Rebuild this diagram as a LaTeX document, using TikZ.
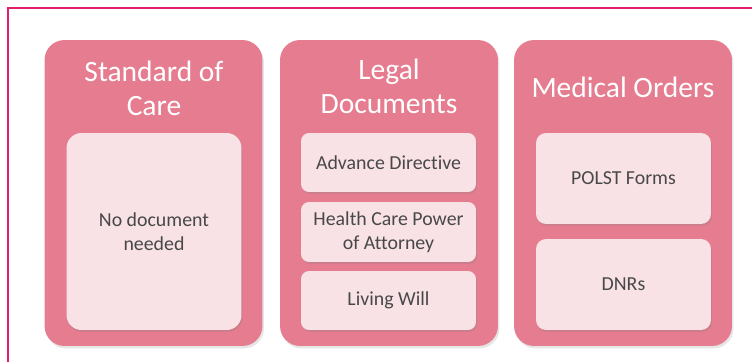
\documentclass[tikz,border=0pt]{standalone}
\usepackage{fontspec}
\setmainfont{Carlito}[Ligatures=NoCommon]
\usepackage{tikz}
\usetikzlibrary{shadows}

\definecolor{colpink}{HTML}{E57C8F}
\definecolor{itempink}{HTML}{F9E2E6}
\definecolor{framepink}{HTML}{E0206A}
\definecolor{itemtext}{HTML}{484848}

\tikzset{
  col/.style={fill=colpink, rounded corners=0.4cm, minimum width=4.36cm, minimum height=6.12cm,
    drop shadow={opacity=0.2, shadow xshift=0.03cm, shadow yshift=-0.05cm}},
  item/.style={fill=itempink, rounded corners=0.16cm, minimum width=3.5cm, align=center,
    text=itemtext, font=\fontsize{11.3}{13.6}\selectfont,
    drop shadow={opacity=0.25, shadow xshift=0.02cm, shadow yshift=-0.04cm}},
  coltitle/.style={text=white, align=center, font=\fontsize{16.8}{19.4}\selectfont}
}

\begin{document}
\begin{tikzpicture}[x=0.02cm,y=-0.02cm]

\useasboundingbox (0,0) rectangle (752,362);
\draw[framepink, line width=0.045cm] (8,370) -- (8,8) -- (760,8);

% columns
\node[col] (care) at (153.5,193) {};
\node[col] (legal) at (389,193) {};
\node[col] (orders) at (623,193) {};

\node[coltitle] (careT) at (154,88) {Standard of\\Care};
\node[coltitle] (legalT) at (389,86.5) {Legal\\Documents};
\node[coltitle] (ordersT) at (623,87) {Medical Orders};

% items
\node[item, rounded corners=0.3cm, minimum height=3.94cm] (nodoc) at (154,231.5) {No document\\needed};

\node[item, minimum height=1.18cm] (advdir) at (388.5,162.5) {Advance Directive};
\node[item, minimum height=1.2cm] (hcpoa) at (388.5,232) {Health Care Power\\of Attorney};
\node[item, minimum height=1.18cm] (living) at (388.5,300.5) {Living Will};

\node[item, rounded corners=0.2cm, minimum height=1.82cm] (polst) at (623.5,178.5) {POLST Forms};
\node[item, rounded corners=0.2cm, minimum height=1.82cm] (dnr) at (623.5,284.5) {DNRs};

\end{tikzpicture}
\end{document}
